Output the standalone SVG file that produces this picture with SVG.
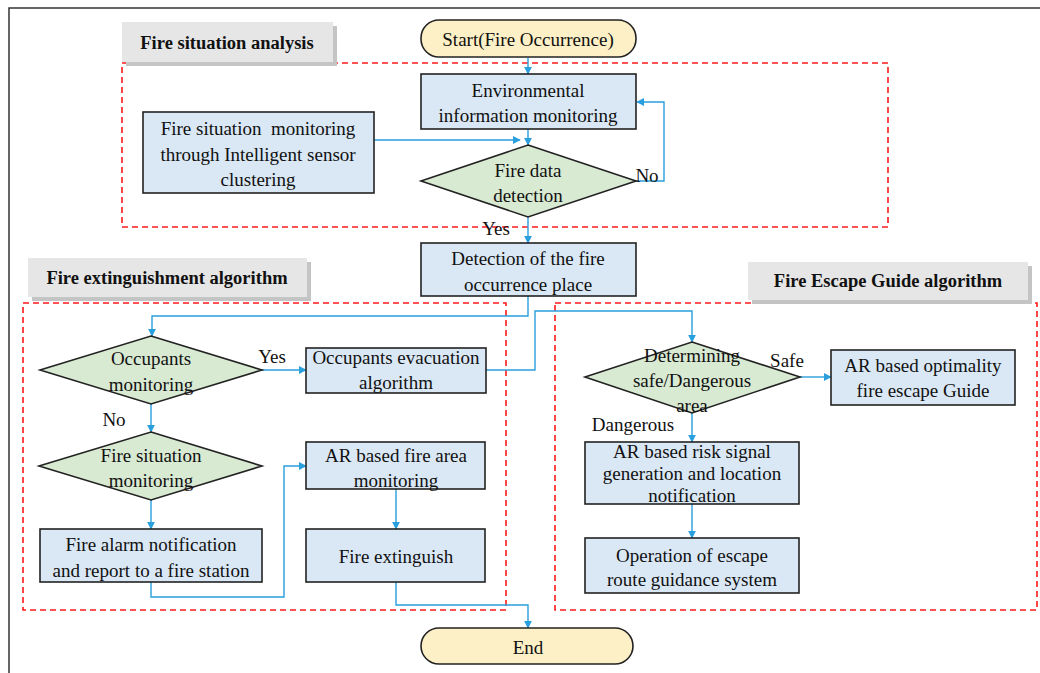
<svg xmlns="http://www.w3.org/2000/svg" width="1040" height="673" viewBox="0 0 1040 673">
<style>
text{font-family:"Liberation Serif","Times New Roman",serif;font-size:19px;fill:#111;text-anchor:middle;dominant-baseline:central}
.lbl{font-weight:bold;font-size:18.5px}
.box{fill:#dae8f5;stroke:#222;stroke-width:1.6}
.dia{fill:#d9ead3;stroke:#222;stroke-width:1.6}
.pill{fill:#fdf0c6;stroke:#222;stroke-width:1.6}
.grp{fill:none;stroke:#ff1a1a;stroke-width:1.6;stroke-dasharray:6 4}
.tag{fill:#e6e6e6}
.sh{fill:#c4c4c4}
.c{fill:none;stroke:#2a9fdd;stroke-width:1.4;marker-end:url(#ar)}
</style>
<defs>
<marker id="ar" viewBox="0 0 10 10" refX="9" refY="5" markerWidth="8" markerHeight="8" markerUnits="userSpaceOnUse" orient="auto">
<path d="M0,0 L10,5 L0,10 z" fill="#2a9fdd"/>
</marker>
</defs>
<rect width="1040" height="673" fill="#fff"/>
<path d="M9,673 V8 H1040" fill="none" stroke="#333" stroke-width="1.5"/>

<g id="groups">
<rect class="grp" x="122" y="63" width="766" height="164"/>
<rect class="grp" x="23" y="303" width="483" height="307"/>
<rect class="grp" x="555" y="303" width="482" height="307"/>
</g>

<g id="tag-analysis">
<rect class="sh" x="126" y="26" width="211" height="40"/>
<rect class="tag" x="122" y="22" width="211" height="40"/>
<text class="lbl" x="227" y="43">Fire situation analysis</text>
</g>
<g id="tag-extinguish">
<rect class="sh" x="32" y="262" width="279" height="39"/>
<rect class="tag" x="28" y="258" width="279" height="39"/>
<text class="lbl" x="167" y="278">Fire extinguishment algorithm</text>
</g>
<g id="tag-escape">
<rect class="sh" x="752" y="266" width="280" height="38"/>
<rect class="tag" x="748" y="262" width="280" height="38"/>
<text class="lbl" x="888" y="281">Fire Escape Guide algorithm</text>
</g>

<g id="connectors">
<path class="c" d="M528,58 V74"/>
<path class="c" d="M528,129 V145"/>
<path class="c" d="M374,140 H520"/>
<path class="c" d="M636,181 H664 V102 H637"/>
<path class="c" d="M528,217 V243"/>
<path class="c" d="M528,296 V316 H152 V336"/>
<path class="c" d="M262,370 H306"/>
<path class="c" d="M486,370 H535 V311 H692 V342"/>
<path class="c" d="M800,377 H831"/>
<path class="c" d="M692,413 V442"/>
<path class="c" d="M692,504 V538"/>
<path class="c" d="M151,404 V432"/>
<path class="c" d="M151,500 V529"/>
<path class="c" d="M151,582 V597 H284 V466 H306"/>
<path class="c" d="M396,489 V529"/>
<path class="c" d="M396,582 V605 H528 V628"/>
<text x="647" y="175">No</text>
<text x="496" y="228">Yes</text>
<text x="272" y="356">Yes</text>
<text x="114" y="419">No</text>
<text x="787" y="360">Safe</text>
<text x="633" y="424">Dangerous</text>
</g>

<g id="start">
<rect class="pill" x="421" y="20" width="215" height="37" rx="18"/>
<text x="528" y="39">Start(Fire Occurrence)</text>
</g>
<g id="env">
<rect class="box" x="421" y="74" width="215" height="55"/>
<text x="528" y="90">Environmental</text>
<text x="528" y="115">information monitoring</text>
</g>
<g id="sensor">
<rect class="box" x="143" y="112" width="231" height="81"/>
<text x="258" y="128" xml:space="preserve">Fire situation  monitoring</text>
<text x="258" y="154">through Intelligent sensor</text>
<text x="258" y="179">clustering</text>
</g>
<g id="firedata">
<polygon class="dia" points="528,145 636,181 528,217 421,181"/>
<text x="528" y="170">Fire data</text>
<text x="528" y="195">detection</text>
</g>
<g id="detection">
<rect class="box" x="421" y="243" width="215" height="53"/>
<text x="528" y="258">Detection of the fire</text>
<text x="528" y="284">occurrence place</text>
</g>
<g id="occupants">
<polygon class="dia" points="151,336 262,370 151,404 40,370"/>
<text x="151" y="358">Occupants</text>
<text x="151" y="384">monitoring</text>
</g>
<g id="evac">
<rect class="box" x="306" y="348" width="180" height="45"/>
<text x="396" y="357">Occupants evacuation</text>
<text x="396" y="382">algorithm</text>
</g>
<g id="firesit">
<polygon class="dia" points="151,432 262,466 151,500 39,466"/>
<text x="151" y="455">Fire situation</text>
<text x="151" y="480">monitoring</text>
</g>
<g id="alarm">
<rect class="box" x="40" y="529" width="222" height="53"/>
<text x="151" y="544">Fire alarm notification</text>
<text x="151" y="570">and report to a fire station</text>
</g>
<g id="arfire">
<rect class="box" x="306" y="442" width="179" height="47"/>
<text x="396" y="455">AR based fire area</text>
<text x="396" y="480">monitoring</text>
</g>
<g id="extinguish">
<rect class="box" x="306" y="529" width="179" height="53"/>
<text x="396" y="556">Fire extinguish</text>
</g>
<g id="determining">
<polygon class="dia" points="692,342 800,377 692,413 585,377"/>
<text x="692" y="355">Determining</text>
<text x="692" y="380">safe/Dangerous</text>
<text x="692" y="405">area</text>
</g>
<g id="optimal">
<rect class="box" x="831" y="350" width="184" height="55"/>
<text x="923" y="365">AR based optimality</text>
<text x="923" y="390">fire escape Guide</text>
</g>
<g id="risk">
<rect class="box" x="585" y="442" width="214" height="62"/>
<text x="692" y="451">AR based risk signal</text>
<text x="692" y="473">generation and location</text>
<text x="692" y="495">notification</text>
</g>
<g id="operation">
<rect class="box" x="585" y="538" width="214" height="55"/>
<text x="692" y="555">Operation of escape</text>
<text x="692" y="579">route guidance system</text>
</g>
<g id="end">
<rect class="pill" x="421" y="628" width="212" height="36" rx="18"/>
<text x="528" y="647">End</text>
</g>
</svg>
